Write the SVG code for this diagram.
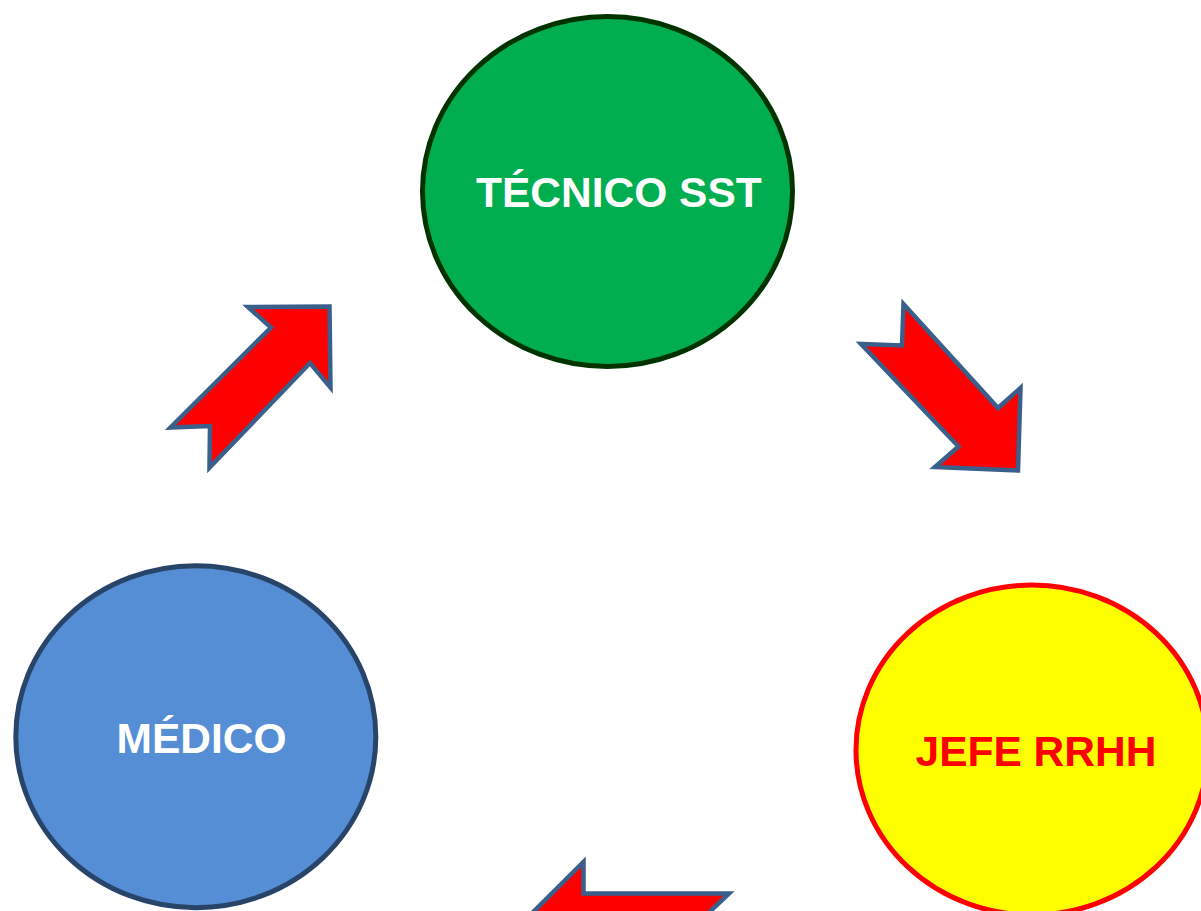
<svg xmlns="http://www.w3.org/2000/svg" width="1201" height="911" viewBox="0 0 1201 911">
<style>
.arrow{fill:#FF0000;stroke:#3A5F8B;stroke-width:4.5;stroke-linejoin:miter}
.lbl{font-family:"Liberation Sans",Arial,sans-serif;font-weight:bold;font-size:42.5px}
</style>
<rect width="1201" height="911" fill="#FFFFFF"/>
<g id="connectors">
<polygon class="arrow" points="329.5,306.5 248,307 271,327.5 170.5,427.5 210,426 209.5,467.5 310,363 330.5,387.5"/>
<polygon class="arrow" points="903.5,304 902,345.5 861,344 958.5,446.5 935,467 1018,470.5 1020.5,388 998,408"/>
<polygon class="arrow" points="583.5,862 583.5,893.5 729,893.5 680,940 505,940"/>
</g>
<g id="tecnico">
<ellipse cx="607.5" cy="191.5" rx="185" ry="175" fill="#00AE4F" stroke="#003300" stroke-width="5"/>
<text class="lbl" x="476" y="207" fill="#FFFFFF" font-size="43.2">TÉCNICO SST</text>
</g>
<g id="medico">
<ellipse cx="195.8" cy="736.7" rx="180" ry="171" fill="#558ED5" stroke="#294469" stroke-width="5"/>
<text class="lbl" x="116.5" y="752.5" fill="#FFFFFF">MÉDICO</text>
</g>
<g id="jefe">
<ellipse cx="1032" cy="750" rx="176" ry="165" fill="#FFFF00" stroke="#FF0000" stroke-width="5"/>
<text class="lbl" x="915.5" y="766" fill="#FF0000">JEFE RRHH</text>
</g>
</svg>
